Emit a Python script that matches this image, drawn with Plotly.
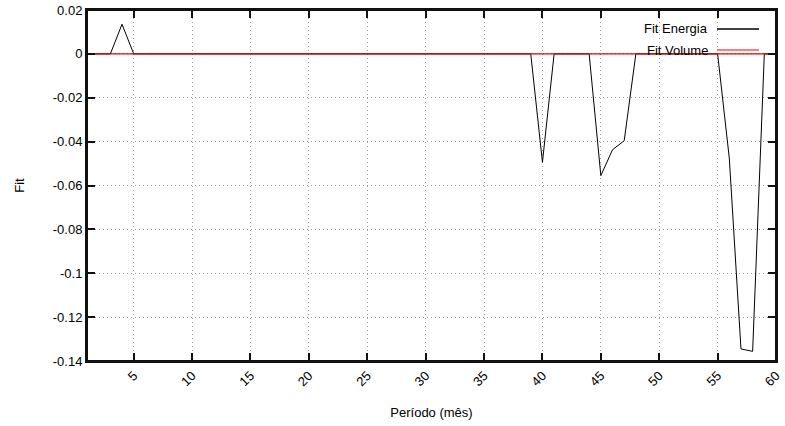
import plotly.graph_objects as go

months = list(range(1, 61))
fit_energia = [
    0, 0, 0, 0.0135, 0, 0, 0, 0, 0, 0,
    0, 0, 0, 0, 0, 0, 0, 0, 0, 0,
    0, 0, 0, 0, 0, 0, 0, 0, 0, 0,
    0, 0, 0, 0, 0, 0, 0, 0, 0, -0.0494,
    0, 0, 0, 0, -0.0555, -0.0437, -0.0396, 0, 0, 0,
    0, 0, 0, 0, 0, -0.0475, -0.1345, -0.1356, 0, 0,
]
fit_volume = [0] * 60
x_ticks = list(range(5, 61, 5))
y_ticks = [0.02, 0, -0.02, -0.04, -0.06, -0.08, -0.1, -0.12, -0.14]
y_tick_text = ["0.02", "0", "-0.02", "-0.04", "-0.06", "-0.08", "-0.1", "-0.12", "-0.14"]

FONT = "Liberation Sans, Arial, Helvetica, sans-serif"

fig = go.Figure()
fig.add_trace(go.Scatter(x=months, y=fit_energia, mode="lines", name="Fit Energia",
                         line=dict(color="black", width=1), showlegend=False))
fig.add_trace(go.Scatter(x=months, y=fit_volume, mode="lines", name="Fit Volume",
                         line=dict(color="#e00000", width=1.3), showlegend=False))

axis_common = dict(
    automargin=False,
    showline=True, linecolor="#111111", linewidth=2, mirror="all",
    ticks="inside", ticklen=8, tickwidth=1.5, tickcolor="#111111",
    showgrid=True, gridcolor="#a0a0a0", griddash="1px,3px", gridwidth=1,
    zeroline=False, tickfont=dict(family=FONT, size=13, color="black"),
)

fig.update_layout(
    width=785, height=426,
    margin=dict(l=87, r=9, t=10, b=65, autoexpand=False),
    paper_bgcolor="white", plot_bgcolor="white",
    font=dict(family=FONT, size=13, color="black"),
    xaxis=dict(range=[1, 60], tickvals=x_ticks, tickangle=-45,
               title=dict(text="Período (mês)", font=dict(family=FONT, size=13), standoff=20),
               **axis_common),
    yaxis=dict(range=[-0.14, 0.02], tickvals=y_ticks, ticktext=y_tick_text,
               title=dict(text="Fit", font=dict(family=FONT, size=13), standoff=25),
               **axis_common),
)

# plot frame
fig.add_shape(type="rect", xref="paper", yref="paper", x0=0, x1=1, y0=0, y1=1,
              line=dict(color="#111111", width=2), layer="above")

# gnuplot-style key (text right, sample to the right)
legend_items = [("Fit Energia", "black", 29), ("Fit Volume", "#ff5050", 50)]
for label, color, ypix in legend_items:
    yp = 1 - (ypix - 10) / 351
    fig.add_annotation(text=label, xref="paper", yref="paper",
                       x=(710 - 87) / 689, y=yp, xanchor="right", yanchor="middle",
                       showarrow=False, font=dict(family=FONT, size=13, color="black"))
    fig.add_shape(type="line", xref="paper", yref="paper",
                  x0=(717 - 87) / 689, x1=(759 - 87) / 689, y0=yp, y1=yp,
                  line=dict(color=color, width=1.3))

fig.write_html("out.html", config={"displayModeBar": False},
               post_script="document.body.style.margin='0';document.body.style.overflow='hidden';")
